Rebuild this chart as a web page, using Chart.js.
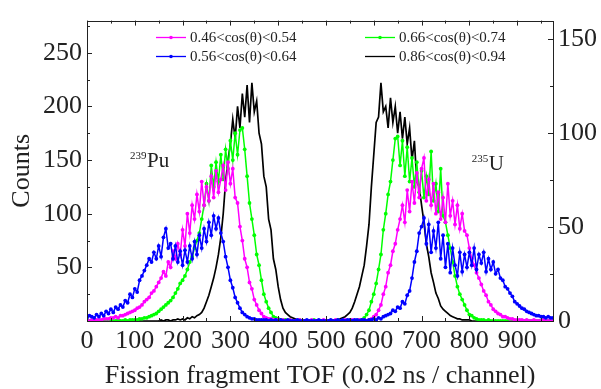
<!DOCTYPE html>
<html>
<head>
<meta charset="utf-8">
<script src="https://cdn.jsdelivr.net/npm/chart.js@4/dist/chart.umd.min.js"></script>
<style>
  body { margin: 0; background: #fff; }
  #wrap { width: 601px; height: 389px; }
</style>
</head>
<body>
<div id="wrap"><canvas id="tofChart"></canvas></div>
<script>
// channel numbers (every 5th channel)
const channels = [
  0, 5, 10, 15, 20, 25, 30, 35, 40, 45, 50, 55, 60, 65, 70, 75, 80, 85, 90, 95,
  100, 105, 110, 115, 120, 125, 130, 135, 140, 145, 150, 155, 160, 165, 170, 175, 180, 185, 190, 195,
  200, 205, 210, 215, 220, 225, 230, 235, 240, 245, 250, 255, 260, 265, 270, 275, 280, 285, 290, 295,
  300, 305, 310, 315, 320, 325, 330, 335, 340, 345, 350, 355, 360, 365, 370, 375, 380, 385, 390, 395,
  400, 405, 410, 415, 420, 425, 430, 435, 440, 445, 450, 455, 460, 465, 470, 475, 480, 485, 490, 495,
  500, 505, 510, 515, 520, 525, 530, 535, 540, 545, 550, 555, 560, 565, 570, 575, 580, 585, 590, 595,
  600, 605, 610, 615, 620, 625, 630, 635, 640, 645, 650, 655, 660, 665, 670, 675, 680, 685, 690, 695,
  700, 705, 710, 715, 720, 725, 730, 735, 740, 745, 750, 755, 760, 765, 770, 775, 780, 785, 790, 795,
  800, 805, 810, 815, 820, 825, 830, 835, 840, 845, 850, 855, 860, 865, 870, 875, 880, 885, 890, 895,
  900, 905, 910, 915, 920, 925, 930, 935, 940, 945, 950, 955, 960, 965, 970, 975
];

const countsMagenta = [
  0, 0, 1, 0, 1, 1, 1, 2, 2, 2, 3, 3, 4, 3, 5, 5, 6, 7, 8, 9,
  10, 12, 13, 15, 18, 20, 22, 26, 28, 32, 36, 40, 46, 42, 55, 50, 65, 58, 72, 62,
  85, 70, 100, 82, 108, 95, 118, 102, 130, 108, 125, 112, 135, 115, 140, 120, 132, 145, 122, 148,
  128, 142, 115, 110, 88, 75, 58, 50, 36, 30, 20, 15, 10, 7, 4, 3, 2, 2, 1, 1,
  1, 0, 1, 0, 0, 1, 0, 0, 0, 1, 0, 0, 0, 0, 1, 0, 0, 0, 0, 1,
  0, 0, 0, 0, 1, 0, 0, 0, 1, 0, 0, 1, 0, 0, 1, 0, 1, 0, 1, 2,
  4, 6, 10, 15, 25, 32, 45, 52, 65, 72, 85, 95, 108, 92, 122, 102, 130, 110, 138, 115,
  142, 152, 112, 132, 108, 128, 100, 120, 95, 115, 92, 128, 98, 112, 90, 108, 86, 100, 84, 80,
  68, 58, 52, 45, 40, 34, 28, 24, 18, 15, 11, 9, 7, 6, 4, 4, 3, 2, 2, 1,
  1, 1, 1, 0, 1, 0, 0, 1, 0, 0, 0, 1, 0, 0, 0, 0
];

const countsBlue = [
  3, 5, 4, 3, 6, 4, 7, 5, 9, 7, 11, 8, 13, 11, 15, 13, 19, 17, 25, 22,
  30, 27, 38, 42, 47, 52, 58, 55, 64, 58, 70, 60, 78, 86, 68, 72, 58, 70, 55, 65,
  52, 66, 55, 70, 58, 74, 62, 80, 68, 86, 74, 92, 80, 98, 86, 96, 82, 74, 60, 50,
  38, 31, 22, 17, 12, 8, 6, 4, 3, 2, 2, 1, 1, 1, 1, 1, 0, 1, 0, 1,
  0, 1, 0, 0, 1, 0, 0, 0, 1, 0, 0, 0, 1, 0, 0, 0, 0, 1, 0, 0,
  0, 0, 1, 0, 0, 1, 0, 1, 0, 1, 1, 0, 1, 1, 0, 1, 1, 0, 1, 1,
  2, 1, 3, 2, 4, 5, 6, 7, 10, 9, 13, 12, 18, 16, 24, 28, 40, 55, 65, 82,
  88, 96, 72, 90, 64, 84, 68, 92, 58, 80, 50, 72, 45, 68, 52, 42, 64, 46, 62, 50,
  64, 52, 68, 48, 62, 54, 64, 46, 58, 48, 55, 44, 48, 40, 38, 32, 30, 26, 23, 18,
  16, 14, 12, 11, 9, 8, 7, 6, 5, 5, 4, 4, 3, 4, 3, 3
];

const countsGreen = [
  0, 0, 0, 0, 0, 0, 0, 0, 0, 0, 0, 0, 0, 1, 0, 0, 1, 0, 1, 1,
  1, 1, 2, 2, 3, 3, 4, 5, 6, 7, 9, 11, 13, 15, 17, 19, 22, 26, 30, 35,
  38, 42, 48, 55, 60, 68, 75, 82, 95, 108, 128, 112, 145, 125, 148, 130, 155, 132, 160, 142,
  168, 150, 175, 155, 178, 180, 160, 135, 110, 95, 80, 62, 52, 38, 25, 18, 12, 8, 4, 3,
  2, 1, 1, 1, 0, 1, 0, 0, 0, 1, 0, 0, 0, 0, 0, 1, 0, 0, 0, 0,
  0, 0, 0, 0, 0, 1, 0, 0, 0, 0, 0, 0, 0, 0, 1, 1, 3, 6, 10, 18,
  25, 35, 48, 62, 85, 100, 118, 130, 150, 170, 172, 145, 168, 135, 162, 130, 152, 125, 148, 120,
  140, 115, 135, 118, 158, 112, 128, 102, 142, 98, 92, 80, 68, 55, 42, 32, 25, 20, 15, 10,
  6, 5, 3, 2, 1, 1, 1, 0, 1, 0, 0, 0, 0, 0, 0, 0, 0, 0, 0, 0,
  0, 0, 0, 0, 0, 0, 0, 0, 0, 0, 0, 0, 0, 0, 0, 0
];

const countsBlack = [
  0, 0, 0, 0, 0, 0, 0, 0, 0, 0, 0, 0, 0, 0, 0, 0, 0, 0, 0, 0,
  0, 0, 0, 0, 0, 0, 0, 0, 0, 0, 0, 1, 0, 1, 1, 0, 1, 1, 2, 1,
  2, 1, 3, 2, 4, 3, 5, 6, 8, 12, 18, 24, 32, 40, 50, 62, 78, 100, 130, 150,
  165, 188, 170, 200, 180, 212, 190, 220, 185, 222, 195, 205, 175, 165, 135, 125, 95, 85, 58, 48,
  32, 20, 12, 8, 6, 4, 3, 2, 1, 1, 1, 0, 1, 0, 0, 0, 0, 0, 0, 0,
  0, 0, 0, 1, 1, 1, 2, 3, 4, 6, 8, 12, 18, 25, 32, 42, 52, 70, 90, 125,
  155, 185, 190, 222, 195, 200, 180, 208, 185, 200, 175, 195, 170, 190, 165, 180, 150, 168, 130, 125,
  108, 92, 72, 60, 45, 36, 26, 21, 14, 11, 9, 7, 5, 4, 3, 2, 2, 1, 1, 1,
  1, 0, 0, 0, 0, 0, 0, 0, 0, 0, 0, 0, 0, 0, 0, 0, 0, 0, 0, 0,
  0, 0, 0, 0, 0, 0, 0, 0, 0, 0, 0, 0, 0, 0, 0, 0
];

// legend order: column 1 = magenta, blue; column 2 = green, black
const seriesLabels = ["0.46<cos(θ)<0.54", "0.56<cos(θ)<0.64", "0.66<cos(θ)<0.74", "0.86<cos(θ)<0.94"];
const seriesColors = ["#ff00ff", "#0000ff", "#00ff00", "#000000"];
const seriesCounts = [countsMagenta, countsBlue, countsGreen, countsBlack];
const seriesMarkers = [true, true, true, false];
const seriesOrder = [1, 0, 2, 3]; // blue on top, black underneath

// isotope labels placed at (channel, counts)
const isoLabels = [
  { sup: "239", name: "Pu", ch: 90, counts: 144 },
  { sup: "235", name: "U", ch: 805, counts: 141 }
];

const serif = "'Liberation Serif', 'Times New Roman', serif";
const textColor = "#222";

const datasets = seriesLabels.map((label, i) => ({
  label,
  data: channels.map((c, j) => ({ x: c, y: seriesCounts[i][j] })),
  borderColor: seriesColors[i],
  backgroundColor: seriesColors[i],
  borderWidth: seriesMarkers[i] ? 1.5 : 1.7,
  pointRadius: seriesMarkers[i] ? 1.9 : 0,
  pointBorderWidth: 0,
  pointBackgroundColor: seriesColors[i],
  tension: 0,
  order: seriesOrder[i],
  yAxisID: "y"
}));

// inward ticks + box frame
const frameTicks = {
  id: "frameTicks",
  afterDatasetsDraw(chart) {
    const { ctx, chartArea: a, scales } = chart;
    ctx.save();
    ctx.strokeStyle = "#222";
    ctx.lineWidth = 1;
    ctx.strokeRect(Math.round(a.left) + 0.5, Math.round(a.top) + 0.5,
      Math.round(a.right - a.left), Math.round(a.bottom - a.top));

    const line = (x1, y1, x2, y2) => {
      ctx.beginPath(); ctx.moveTo(x1, y1); ctx.lineTo(x2, y2); ctx.stroke();
    };

    const xs = scales.x;
    xs.ticks.forEach(t => {
      [[t.value, 5], [t.value + 50, 3]].forEach(([v, len]) => {
        if (v > xs.max) return;
        const px = Math.round(xs.getPixelForValue(v)) + 0.5;
        line(px, a.bottom, px, a.bottom - len);
        line(px, a.top, px, a.top + len);
      });
    });

    const ys = scales.y;
    ys.ticks.forEach(t => {
      [[t.value, 5], [t.value + 25, 3]].forEach(([v, len]) => {
        if (v > ys.max) return;
        const py = Math.round(ys.getPixelForValue(v)) + 0.5;
        line(a.left, py, a.left + len, py);
      });
    });

    const y2 = scales.y2;
    y2.ticks.forEach(t => {
      [[t.value, 5], [t.value + 25, 3]].forEach(([v, len]) => {
        if (v > y2.max) return;
        const py = Math.round(y2.getPixelForValue(v)) + 0.5;
        line(a.right, py, a.right - len, py);
      });
    });
    ctx.restore();
  }
};

// two-column legend and isotope labels
const legendOpts = { colX: [156, 365], rowY: [37, 56], lineLen: 30, textGap: 4 };

const annotations = {
  id: "annotations",
  afterDraw(chart) {
    const { ctx, scales } = chart;
    ctx.save();
    seriesLabels.forEach((label, i) => {
      const x = legendOpts.colX[Math.floor(i / 2)];
      const y = legendOpts.rowY[i % 2];
      ctx.strokeStyle = seriesColors[i];
      ctx.lineWidth = 1.3;
      ctx.beginPath();
      ctx.moveTo(x, y + 0.5);
      ctx.lineTo(x + legendOpts.lineLen, y + 0.5);
      ctx.stroke();
      if (seriesMarkers[i]) {
        ctx.fillStyle = seriesColors[i];
        ctx.beginPath();
        ctx.arc(x + legendOpts.lineLen / 2, y + 0.5, 1.8, 0, Math.PI * 2);
        ctx.fill();
      }
      ctx.fillStyle = textColor;
      ctx.font = "15px " + serif;
      ctx.textBaseline = "middle";
      ctx.textAlign = "left";
      ctx.fillText(label, x + legendOpts.lineLen + legendOpts.textGap, y + 1);
    });

    isoLabels.forEach(l => {
      const x = scales.x.getPixelForValue(l.ch);
      const y = scales.y.getPixelForValue(l.counts);
      ctx.fillStyle = textColor;
      ctx.textBaseline = "alphabetic";
      ctx.textAlign = "left";
      ctx.font = "11px " + serif;
      ctx.fillText(l.sup, x, y - 8);
      const w = ctx.measureText(l.sup).width;
      ctx.font = "21px " + serif;
      ctx.fillText(l.name, x + w + 0.5, y);
    });
    ctx.restore();
  }
};

new Chart(document.getElementById("tofChart"), {
  type: "line",
  data: { datasets },
  plugins: [frameTicks, annotations],
  options: {
    responsive: true,
    maintainAspectRatio: false,
    animation: false,
    parsing: false,
    layout: { padding: { top: 14, left: 0, right: 0, bottom: 0 } },
    plugins: { legend: { display: false }, tooltip: { enabled: false } },
    scales: {
      x: {
        type: "linear",
        min: 0,
        max: 975,
        grid: { display: false, drawTicks: false },
        border: { display: false },
        ticks: {
          stepSize: 100,
          includeBounds: false,
          autoSkip: false,
          maxRotation: 0,
          padding: 5,
          color: textColor,
          font: { family: serif, size: 26 }
        },
        title: {
          display: true,
          text: "Fission fragment TOF (0.02 ns / channel)",
          color: textColor,
          font: { family: serif, size: 26, lineHeight: 1 },
          padding: { top: 0, bottom: 0 }
        },
        afterFit(scale) { scale.height = 68; }
      },
      y: {
        position: "left",
        min: 0,
        max: 280,
        grid: { display: false, drawTicks: false },
        border: { display: false },
        ticks: {
          stepSize: 50,
          includeBounds: false,
          padding: 5,
          color: textColor,
          font: { family: serif, size: 26 },
          callback: v => (v === 0 ? "" : v)
        },
        title: {
          display: true,
          text: "Counts",
          color: textColor,
          font: { family: serif, size: 26, lineHeight: 1 },
          padding: { top: 9, bottom: 0 }
        },
        afterFit(scale) { scale.width = 87; }
      },
      y2: {
        position: "right",
        min: 0,
        max: 160,
        grid: { display: false, drawTicks: false },
        border: { display: false },
        ticks: {
          stepSize: 50,
          includeBounds: false,
          padding: 5,
          color: textColor,
          font: { family: serif, size: 26 }
        },
        afterFit(scale) { scale.width = 48; }
      }
    }
  }
});
</script>
</body>
</html>
